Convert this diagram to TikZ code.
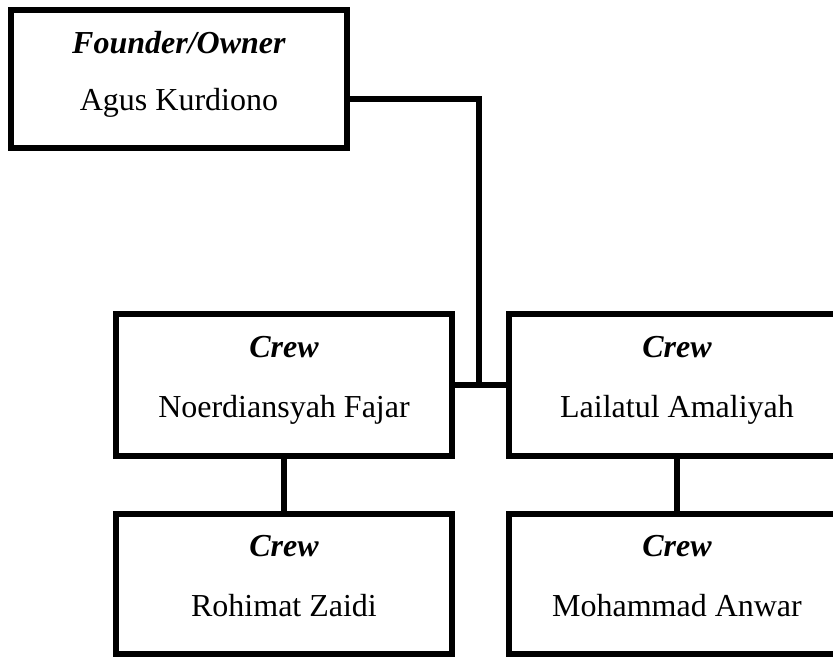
\documentclass[tikz,border=0pt]{standalone}
\usepackage{fontspec}
\setmainfont{Liberation Serif}
\newcommand{\poste}[2]{\textbf{\textit{#1}}\\#2\rule[-8pt]{0pt}{8pt}}
\begin{document}
\begin{tikzpicture}[x=0.5pt,y=-0.5pt]
\tikzset{boite/.style={draw, line width=3pt, minimum width=168pt, minimum height=71pt, align=center, inner sep=0pt, font=\fontsize{16}{30}\selectfont}}
\tikzset{lien/.style={line width=3pt}}
\useasboundingbox (0,0) rectangle (833,657);
\clip (0,0) rectangle (833,657);
\node[boite, minimum height=69pt, font=\fontsize{16}{28.5}\selectfont] (P) at (179,79) {\poste{Founder/Owner}{Agus Kurdiono}};
\node[boite] (C1) at (284,384.5) {\poste{Crew}{Noerdiansyah Fajar}};
\node[boite] (C2) at (677,384.5) {\poste{Crew}{Lailatul Amaliyah}};
\node[boite, minimum height=70pt] (C3) at (284,584) {\poste{Crew}{Rohimat Zaidi}};
\node[boite, minimum height=70pt] (C4) at (677,584) {\poste{Crew}{Mohammad Anwar}};
\coordinate (J) at (479,384.5);
\draw[lien] ([yshift=-10pt]P.east) -| (J);
\draw[lien] (C1.east) -- (C2.west);
\draw[lien] (C1.south) -- (C3.north);
\draw[lien] (C2.south) -- (C4.north);
\end{tikzpicture}
\end{document}
